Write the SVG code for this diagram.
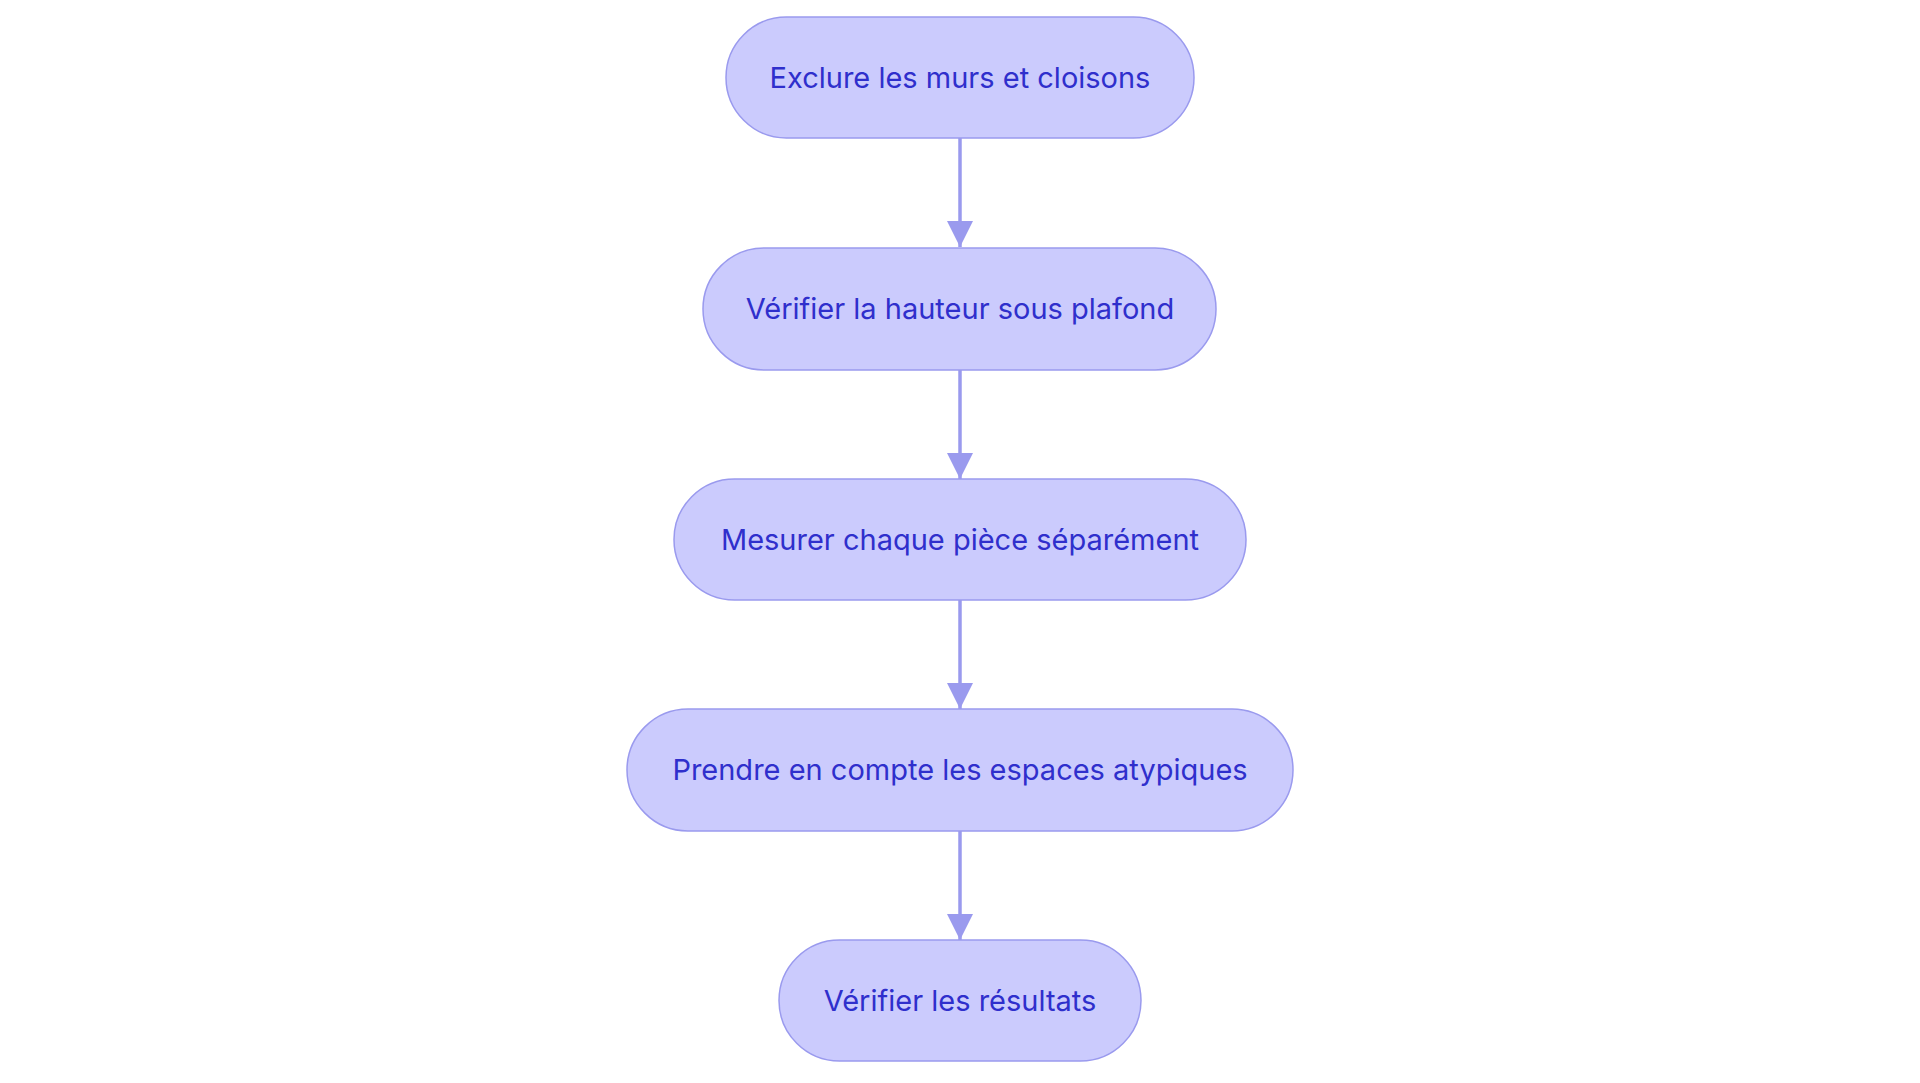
<svg xmlns="http://www.w3.org/2000/svg" width="1920" height="1083" viewBox="0 0 1920 1083">
<style>
.n{fill:#cbcbfd;stroke:#9a9aee;stroke-width:1.5}
.t{font-family:Inter,"Open Sans",sans-serif;font-size:29px;fill:#2f2fcc;text-anchor:middle;dominant-baseline:central}
.c{stroke:#9a9aee;stroke-width:3.5;fill:none}
</style>
<defs><marker id="a" markerWidth="8" markerHeight="8" refX="4" refY="6" orient="auto" markerUnits="userSpaceOnUse" viewBox="0 0 8 8"><path d="M0,0 L8,0 L4,8 Z" fill="#9a9aee"/></marker>
<marker id="b" viewBox="0 0 10 10" refX="5" refY="10" markerWidth="26" markerHeight="26" markerUnits="userSpaceOnUse" orient="0"><path d="M0,0 L10,0 L5,10 Z" fill="#9a9aee"/></marker></defs>
<rect width="1920" height="1083" fill="#fff"/>
<g id="connectors">
<path class="c" d="M960,138 V247" marker-end="url(#b)"/>
<path class="c" d="M960,370 V479" marker-end="url(#b)"/>
<path class="c" d="M960,600 V709" marker-end="url(#b)"/>
<path class="c" d="M960,831 V940" marker-end="url(#b)"/>
</g>
<g id="n1"><rect class="n" x="726" y="17" width="468" height="121" rx="60.5"/><text class="t" x="960" y="77">Exclure les murs et cloisons</text></g>
<g id="n2"><rect class="n" x="703" y="248" width="513" height="122" rx="61"/><text class="t" x="960" y="308">Vérifier la hauteur sous plafond</text></g>
<g id="n3"><rect class="n" x="674" y="479" width="572" height="121" rx="60.5"/><text class="t" x="960" y="539">Mesurer chaque pièce séparément</text></g>
<g id="n4"><rect class="n" x="627" y="709" width="666" height="122" rx="61"/><text class="t" x="960" y="769">Prendre en compte les espaces atypiques</text></g>
<g id="n5"><rect class="n" x="779" y="940" width="362" height="121" rx="60.5"/><text class="t" x="960" y="1000">Vérifier les résultats</text></g>
</svg>
